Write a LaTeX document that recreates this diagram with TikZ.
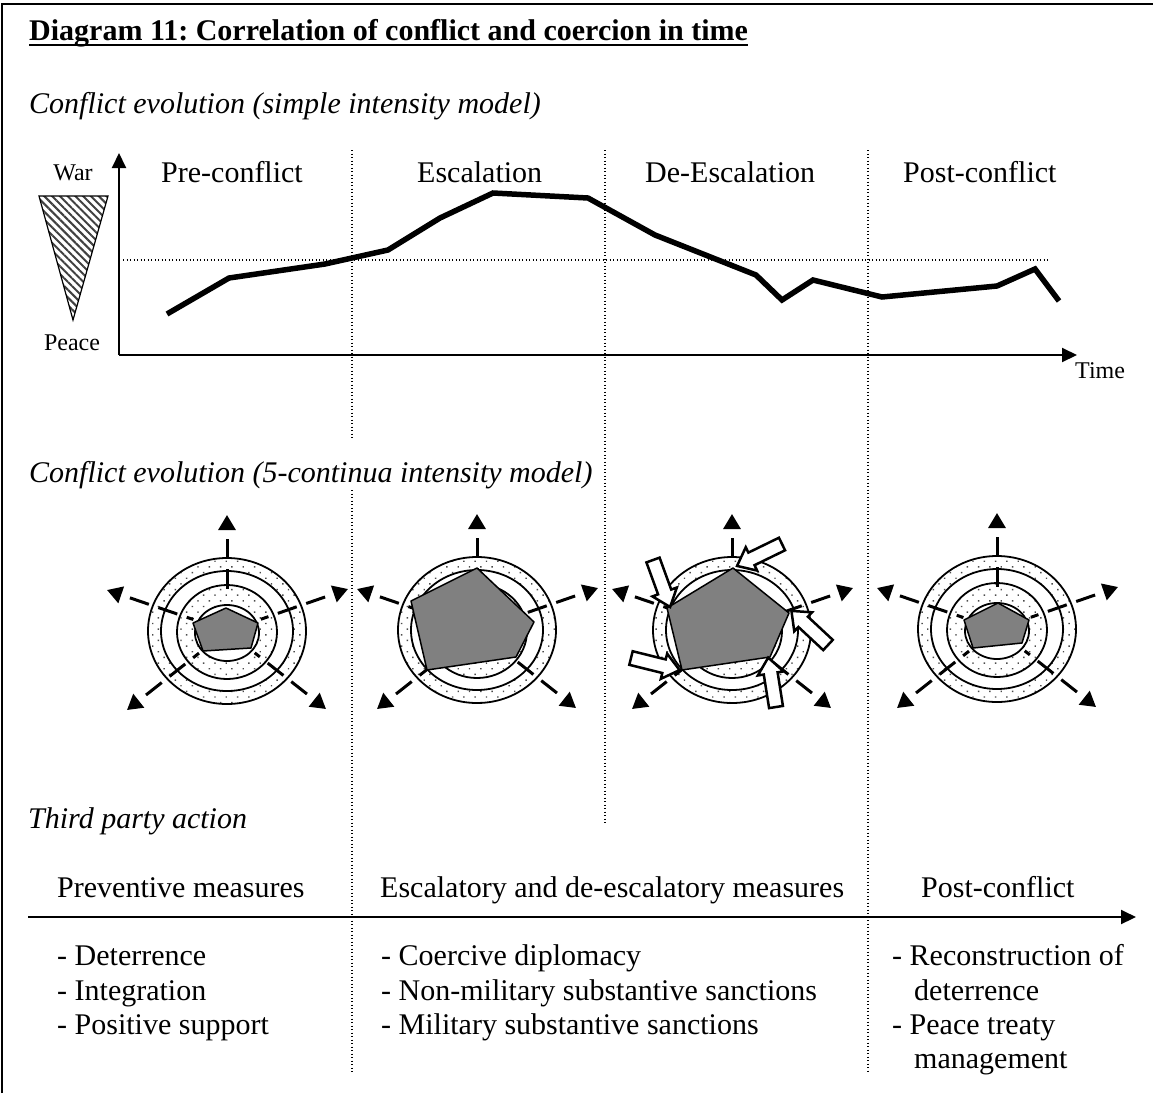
\documentclass[tikz,border=0pt]{standalone}
\usepackage{fontspec}
\setmainfont{Liberation Serif}
\usetikzlibrary{arrows.meta,patterns.meta}
\frenchspacing
\tikzset{
  txt/.style={inner sep=0pt, anchor=base west, font=\fontsize{30}{35}\selectfont},
  txtb/.style={txt, font=\fontsize{30}{35}\selectfont\bfseries},
  txti/.style={txt, font=\fontsize{30}{35}\selectfont\itshape},
  small/.style={inner sep=0pt, anchor=base, font=\fontsize{24}{28}\selectfont},
  vdot/.style={line width=1.3pt, dash pattern=on 1.3pt off 2.2pt},
  axisline/.style={line width=2pt},
  ringline/.style={line width=1.8pt},
  dotsfill/.style={pattern={Dots[distance=8pt,radius=1pt,angle=45]}, pattern color=black!70},
  axisarrow/.style={line width=3pt, {Triangle[length=15pt,width=17pt]}-, dash pattern=on 20pt off 10pt, dash phase=20pt},
  pent/.style={fill=black!50, draw=black, line width=1.5pt, line join=round},
  barrow/.style={fill=white, draw=black, line width=2.5pt, line join=miter},
  curve/.style={line width=5.5pt, line join=miter}
}
\newcommand\ringset[1]{%
  \begin{scope}[shift={#1}]
    \draw[ringline, dotsfill] (0,0) ellipse [x radius=79, y radius=73];
    \draw[ringline, fill=white] (0,0) ellipse [x radius=66, y radius=60];
    \draw[ringline, dotsfill] (0,1) ellipse [x radius=50, y radius=47];
    \draw[ringline, fill=white] (0,2) ellipse [x radius=32, y radius=28];
    \foreach \tx/\ty in {0/-116, -120/-41, 121/-42, 99/78, -100/79}
      \draw[axisarrow] (\tx,\ty) -- ({0.28*\tx},{0.28*\ty});
  \end{scope}}
\newcommand\blockarr[2]{%
  \draw[barrow, shift={#1}, rotate=#2] (0,-7) -- (34,-7) -- (34,-13) -- (50,0) -- (34,13) -- (34,7) -- (0,7) -- cycle;}
\begin{document}
\begin{tikzpicture}[x=1pt,y=-1pt]
\useasboundingbox (0,0) rectangle (1153,1093);
% frame
\draw[line width=2pt] (2,1093) -- (2,4) -- (1153,4);

% title and subtitles
\node[txtb] (title) at (29,40) {Diagram 11: Correlation of conflict and coercion in time};
\draw[line width=1.8pt] ([yshift=-5pt]title.base west) -- ([yshift=-5pt]title.base east);
\node[txti] (sub1) at (29,113) {Conflict evolution (simple intensity model)};
\node[txti] (sub2) at (29,482) {Conflict evolution (5-continua intensity model)};
\node[txti] (sub3) at (28,828) {Third party action};

% vertical dotted separators
\draw[vdot] (352,150) -- (352,440);
\draw[vdot] (352,490) -- (352,1073);
\draw[vdot] (605,150) -- (605,823);
\draw[vdot] (868,150) -- (868,1073);

% simple intensity chart
\node[small] (war) at (73,180) {War};
\node[small] (peace) at (72,350) {Peace};
\draw[line width=1.2pt, pattern={Lines[angle=-45,distance=5.5pt,line width=2pt]}, pattern color=black!75]
  (39,196) -- (108,196) -- (73,320) -- cycle;
\coordinate (origin) at (119,355);
\coordinate (ytop) at (119,153);
\coordinate (xend) at (1077,355);
\draw[axisline, -{Triangle[length=15pt,width=14pt]}] (origin) -- (ytop);
\draw[axisline, -{Triangle[length=15pt,width=14pt]}] (origin) -- (xend);
\node[small, anchor=base west] (time) at (1075,378) {Time};
\draw[vdot] (123,260) -- (1050,260);
\draw[curve] (167,314) -- (229,278) -- (325,264) -- (388,250) -- (440,218) -- (493,193)
  -- (588,198) -- (655,235) -- (756,275) -- (782,300) -- (813,280) -- (882,297)
  -- (997,286) -- (1035,269) -- (1059,301);
\node[txt] (pre) at (161,182) {Pre-conflict};
\node[txt] (esc) at (417,182) {Escalation};
\node[txt] (desc) at (645,182) {De-Escalation};
\node[txt] (post) at (903,182) {Post-conflict};

% 5-continua charts
\coordinate (c1) at (227,631);
\coordinate (c2) at (477,630);
\coordinate (c3) at (732,630);
\coordinate (c4) at (997,629);
\ringset{(c1)}
\draw[pent] (226,608) -- (258,623) -- (251,648) -- (203,651) -- (193,623) -- cycle;
\ringset{(c2)}
\draw[pent] (477,568) -- (534,622) -- (516,657) -- (427,670) -- (411,601) -- cycle;
\ringset{(c3)}
\draw[pent] (733,568) -- (789,613) -- (770,657) -- (682,670) -- (667,608) -- cycle;
\blockarr{(782,544)}{206}
\blockarr{(653,560)}{-70}
\blockarr{(828,645)}{137}
\blockarr{(631,658)}{-14}
\blockarr{(776,707)}{99}
\ringset{(c4)}
\draw[pent] (998,603) -- (1029,620) -- (1022,643) -- (973,648) -- (964,620) -- cycle;

% third party action
\coordinate (tpstart) at (28,917);
\coordinate (tpend) at (1136,917);
\draw[axisline, -{Triangle[length=15pt,width=14pt]}] (tpstart) -- (tpend);
\node[txt] (h1) at (57,897) {Preventive measures};
\node[txt] (h2) at (380,897) {Escalatory and de-escalatory measures};
\node[txt] (h3) at (921,897) {Post-conflict};
\node[txt] (a1) at (57,965) {- Deterrence};
\node[txt] (a2) at (57,1000) {- Integration};
\node[txt] (a3) at (57,1034) {- Positive support};
\node[txt] (b1) at (381,965) {- Coercive diplomacy};
\node[txt] (b2) at (381,1000) {- Non-military substantive sanctions};
\node[txt] (b3) at (381,1034) {- Military substantive sanctions};
\node[txt] (d1) at (892,965) {- Reconstruction of};
\node[txt] (d2) at (914,1000) {deterrence};
\node[txt] (d3) at (892,1034) {- Peace treaty};
\node[txt] (d4) at (914,1068) {management};
\end{tikzpicture}
\end{document}
